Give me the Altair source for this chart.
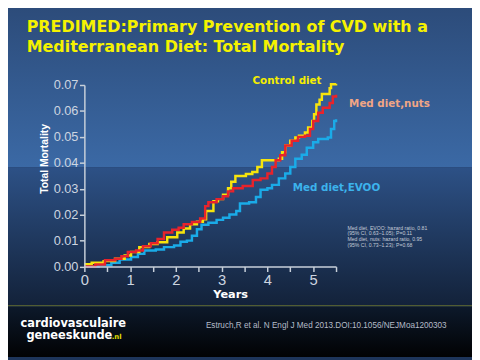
import altair as alt
import pandas as pd

# ---- data ----
control_t = [0, 0.16, 0.42, 0.67, 0.88, 1.02, 1.2, 1.42, 1.6, 1.81, 2.03, 2.17, 2.31, 2.46, 2.59, 2.66, 2.82, 2.92, 3.03, 3.14, 3.21, 3.3, 3.53, 3.67, 3.78, 3.88, 4.25, 4.32, 4.39, 4.5, 4.61, 4.69, 4.82, 4.89, 4.98, 5.02, 5.07, 5.14, 5.19, 5.36, 5.39, 5.5]
control_v = [0.0009, 0.0015, 0.0021, 0.003, 0.0043, 0.0056, 0.0075, 0.0087, 0.0094, 0.0113, 0.0131, 0.0147, 0.0163, 0.0173, 0.0182, 0.0214, 0.0252, 0.026, 0.0277, 0.0302, 0.0327, 0.0349, 0.0357, 0.0365, 0.0384, 0.041, 0.0416, 0.0441, 0.0467, 0.0485, 0.0498, 0.0504, 0.0517, 0.0536, 0.0561, 0.0587, 0.0625, 0.0643, 0.0665, 0.0688, 0.0703, 0.0705]

nuts_t = [0, 0.24, 0.45, 0.67, 0.81, 0.95, 1.13, 1.28, 1.45, 1.6, 1.74, 1.92, 2.06, 2.17, 2.35, 2.53, 2.64, 2.71, 2.89, 3.03, 3.14, 3.25, 3.46, 3.68, 3.85, 4.0, 4.1, 4.18, 4.28, 4.39, 4.53, 4.67, 4.82, 4.93, 5.0, 5.11, 5.21, 5.36, 5.43, 5.5]
nuts_v = [0.0, 0.0008, 0.0024, 0.003, 0.004, 0.0056, 0.0062, 0.0078, 0.009, 0.0106, 0.0131, 0.0142, 0.015, 0.0163, 0.0172, 0.0185, 0.0233, 0.0248, 0.026, 0.0271, 0.029, 0.0302, 0.0311, 0.0334, 0.034, 0.0359, 0.0384, 0.041, 0.0429, 0.0467, 0.0485, 0.05, 0.0504, 0.053, 0.0561, 0.0593, 0.0612, 0.0631, 0.0656, 0.0662]

evoo_t = [0, 0.31, 0.59, 0.77, 1.02, 1.17, 1.31, 1.56, 1.74, 1.96, 2.1, 2.24, 2.35, 2.46, 2.56, 2.71, 2.89, 3.03, 3.17, 3.32, 3.4, 3.6, 3.75, 3.85, 4.0, 4.1, 4.25, 4.39, 4.5, 4.61, 4.75, 4.86, 5.0, 5.11, 5.32, 5.39, 5.46, 5.5]
evoo_v = [0.0, 0.0005, 0.0015, 0.0027, 0.0037, 0.0049, 0.0062, 0.0066, 0.0075, 0.0081, 0.0096, 0.01, 0.0119, 0.0144, 0.0161, 0.0169, 0.018, 0.0188, 0.0201, 0.0214, 0.0243, 0.0248, 0.0268, 0.0296, 0.0302, 0.0315, 0.034, 0.0359, 0.0384, 0.0416, 0.0431, 0.0458, 0.0479, 0.0492, 0.0498, 0.053, 0.0561, 0.0568]

y_ticks = [0, 0.01, 0.02, 0.03, 0.04, 0.05, 0.06, 0.07]
x_ticks = [0, 0.5, 1, 1.5, 2, 2.5, 3, 3.5, 4, 4.5, 5, 5.5]

title_lines = ["PREDIMED:Primary Prevention of CVD with a", "Mediterranean Diet: Total Mortality"]
series_labels = ["Control diet", "Med diet,nuts", "Med diet,EVOO"]
hazard_lines = ["Med diet, EVOO: hazard ratio, 0.81", "(95% CI, 0.63\u20131.05);  P=0.11",
                "Med diet, nuts: hazard ratio, 0.95", "(95% CI, 0.73\u20131.23);  P=0.68"]
citation = "Estruch,R et al. N Engl J Med 2013.DOI:10.1056/NEJMoa1200303"

W, H = 256, 184.7
PL, PT = 77.7, 75.3

one = alt.Data(values=[{}])


def grad(c0, c1):
    return {"gradient": "linear", "x1": 0, "y1": 0, "x2": 0, "y2": 1,
            "stops": [{"offset": 0, "color": c0}, {"offset": 1, "color": c1}]}


def band(y0, y1, fill):
    # page coords -> view coords
    return alt.Chart(one).mark_rect(fill=fill, strokeWidth=0).encode(
        x=alt.value(-85.7), x2=alt.value(480 - 85.7),
        y=alt.value(y0 - 83.3), y2=alt.value(y1 - 83.3))


bg = [
    band(0, 167, grad("#2c4b79", "#3b69a5")),
    band(167, 307, grad("#2d5186", "#13223a")),
    band(307, 308.5, "#515c33"),
    band(308.5, 360, grad("#0d192b", "#010203")),
]

xs = alt.Scale(domain=[0, 5.5], nice=False)
ys = alt.Scale(domain=[0, 0.07], nice=False)

xaxis = alt.Axis(values=x_ticks, labelExpr="datum.value % 1 === 0 ? format(datum.value, 'd') : ''",
                 title="Years", titleFont="DejaVu Sans", titleFontWeight="bold", titleFontSize=11.5,
                 titleColor="#ffffff", titleX=148.3, titleY=28.5, titleBaseline="middle", titleAlign="center",
                 labelFont="Liberation Sans", labelFontSize=15, labelColor="#cdd5e0", labelPadding=1.5,
                 labelOverlap=False, labelFlush=False, tickSize=5, tickColor="#c8d0da", tickWidth=1.5,
                 domainColor="#c8d0da", domainWidth=1.5, grid=False, zindex=1)
yaxis = alt.Axis(values=y_ticks, format=".2f",
                 title="Total Mortality", titleFont="Liberation Sans", titleFontWeight="bold", titleFontSize=10.5,
                 titleColor="#ffffff", titleX=-41, titleY=74.7, titleAngle=270, titleAlign="center",
                 titleBaseline="middle",
                 labelFont="Liberation Sans", labelFontSize=13, labelColor="#cdd5e0", labelPadding=1.5,
                 labelOverlap=False, labelFlush=False, tickSize=5, tickColor="#c8d0da", tickWidth=1.5,
                 domainColor="#c8d0da", domainWidth=1.5, grid=False, zindex=1)


def curve(t, v, color):
    df = pd.DataFrame({"t": t, "v": v})
    return alt.Chart(df).mark_line(interpolate="step-after", color=color, strokeWidth=2.5,
                                   clip=False).encode(
        x=alt.X("t:Q", scale=xs, axis=xaxis),
        y=alt.Y("v:Q", scale=ys, axis=yaxis))


lines = [
    curve(evoo_t, evoo_v, "#1aabe8"),
    curve(control_t, control_v, "#f7e40c"),
    curve(nuts_t, nuts_v, "#e8232b"),
]


def label(text, x, y, color, size, font="DejaVu Sans", weight="bold", baseline="middle", align="left"):
    return alt.Chart(alt.Data(values=[{"txt": text}])).mark_text(
        font=font, fontWeight=weight, fontSize=size, color=color, baseline=baseline, align=align
    ).encode(x=alt.value(x - 85.7), y=alt.value(y - 83.3), text="txt:N")


texts = [
    label(title_lines[0], 27, 29, "#f5f200", 16.2, baseline="alphabetic"),
    label(title_lines[1], 27, 49.3, "#f5f200", 16.2, baseline="alphabetic"),
    label(series_labels[0], 256.7, 79, "#f5ee00", 10.5),
    label(series_labels[1], 355, 102.3, "#f0a585", 10.5),
    label(series_labels[2], 297.7, 188.3, "#3cb3ec", 10.5),
]
for i, h in enumerate(hazard_lines):
    texts.append(label(h, 353.3, 228.3 + 6 * i, "#c4ccd8", 5.2, font="Liberation Sans", weight="normal"))
texts += [
    label("cardiovasculaire", 20.7, 329, "#ffffff", 11.6, baseline="alphabetic"),
    label("geneeskunde", 26.7, 342, "#ffffff", 11.6, baseline="alphabetic"),
    label(".nl", 113.5, 342, "#e8e000", 7, baseline="alphabetic"),
    label(citation, 209.3, 328.3, "#b4bcc8", 8.3, font="Liberation Sans", weight="normal"),
]

chart = alt.layer(*bg, *lines, *texts).properties(
    width=W, height=H,
    padding={"left": PL, "top": PT, "right": 472 - PL - W, "bottom": 352 - PT - H},
    autosize="none",
    background="#1d355a",
).configure_view(strokeWidth=0, fill=None)

chart.save("out.html", embed_options={"renderer": "svg", "actions": False})
